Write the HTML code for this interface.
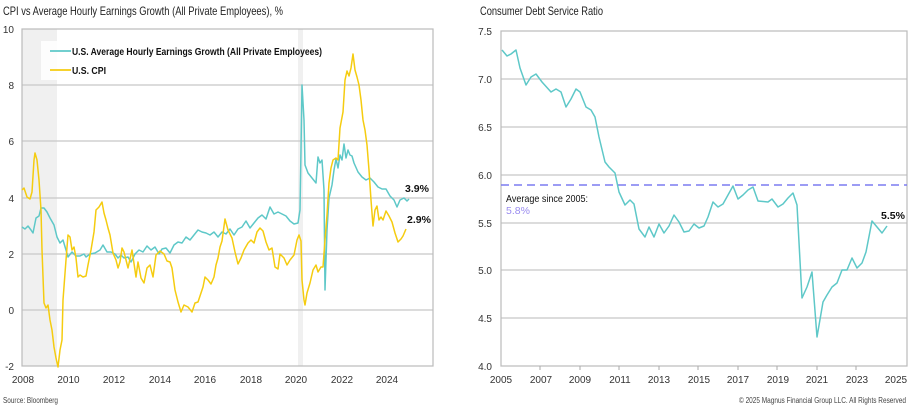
<!DOCTYPE html>
<html><head><style>
body{margin:0;background:#fff;}
svg text{font-family:"Liberation Sans Narrow","Liberation Sans",sans-serif;}
</style></head><body>
<svg width="913" height="405" xmlns="http://www.w3.org/2000/svg">
<rect width="913" height="405" fill="#fff"/>
<!-- LEFT CHART -->
<text x="3" y="15" font-size="12" fill="#222" textLength="280" lengthAdjust="spacingAndGlyphs">CPI vs Average Hourly Earnings Growth (All Private Employees), %</text>
<rect x="22" y="29" width="35" height="337" fill="#f0f0f0"/>
<rect x="298" y="29" width="5" height="337" fill="#f0f0f0"/>
<g stroke="#c8c8c8" stroke-width="1.3">
<line x1="22" y1="85" x2="433" y2="85"/><line x1="22" y1="141" x2="433" y2="141"/>
<line x1="22" y1="198" x2="433" y2="198"/><line x1="22" y1="254" x2="433" y2="254"/>
<line x1="22" y1="310" x2="433" y2="310"/>
</g>
<rect x="41" y="41" width="230" height="39" fill="#fff" opacity="0.85"/>
<rect x="22" y="29" width="411" height="337" fill="none" stroke="#bbb" stroke-width="1.2"/>
<g font-size="10" fill="#333" text-anchor="end">
<text x="14" y="33">10</text><text x="14" y="89">8</text><text x="14" y="145">6</text><text x="14" y="202">4</text><text x="14" y="258">2</text><text x="14" y="314">0</text><text x="14" y="370">-2</text>
</g>
<g font-size="10" fill="#333" text-anchor="middle">
<text x="23" y="383">2008</text><text x="68.5" y="383">2010</text><text x="114" y="383">2012</text><text x="160" y="383">2014</text><text x="205" y="383">2016</text><text x="251" y="383">2018</text><text x="296" y="383">2020</text><text x="342" y="383">2022</text><text x="387" y="383">2024</text>
</g>
<line x1="50" y1="51" x2="71" y2="51" stroke="#5ec8c8" stroke-width="1.8"/>
<text x="72" y="55" font-size="10.5" font-weight="bold" fill="#111" textLength="250" lengthAdjust="spacingAndGlyphs">U.S. Average Hourly Earnings Growth (All Private Employees)</text>
<line x1="50" y1="70" x2="71" y2="70" stroke="#f5cc10" stroke-width="1.8"/>
<text x="72" y="74" font-size="10.5" font-weight="bold" fill="#111" textLength="34" lengthAdjust="spacingAndGlyphs">U.S. CPI</text>
<polyline fill="none" stroke="#5ec8c8" stroke-width="1.5" stroke-linejoin="round" points="22,227 25,229 28,226 31,230 33,233 36,218 39,216 41,208 44,208 47,212 50,218 54,225 57,237 60,243 63,240 66,250 68,257 72,252 76,256 80,256 84,254 86,257 90,254 95,253 100,250 103,245 107,252 111,252 115,254 118,258 121,255 124,258 128,257 131,262 135,254 139,250 143,252 147,246 151,250 155,247 159,254 162,249 166,248 170,253 174,245 178,242 182,243 186,237 190,240 194,235 198,230 202,232 206,233 210,235 214,232 218,237 222,232 226,234 230,229 234,235 238,229 242,227 246,221 250,228 254,223 258,218 262,215 266,219 270,207 274,214 278,212 282,214 286,216 290,221 294,224 298,223 300,210 301,150 302,85 304,120 305,165 308,173 312,178 316,183 318,157 320,163 322,160 324,190 325,290 327,230 329,198 332,185 334,170 336,159 338,168 340,155 342,160 344,144 346,158 348,150 350,155 352,156 354,163 358,172 362,177 366,180 370,178 374,182 378,187 382,189 386,189 390,196 394,200 397,207 400,200 404,198 407,201 409,199"/>
<polyline fill="none" stroke="#f5cc10" stroke-width="1.5" stroke-linejoin="round" points="22,190 24,188 27,197 30,199 32,192 34,160 35,153 37,160 39,180 41,210 42,250 44,303 46,308 48,305 50,320 52,330 54,347 56,358 58,367 60,350 62,340 63,300 66,260 68,235 70,237 72,250 74,247 76,258 78,277 80,275 83,277 86,276 88,265 91,250 94,232 96,210 99,207 102,202 104,213 106,220 108,228 110,235 113,253 116,260 118,268 120,262 122,248 124,252 128,268 132,250 136,277 138,262 141,278 144,283 147,268 150,265 153,277 156,255 160,251 164,254 167,261 170,262 172,268 175,290 178,302 181,312 184,305 188,307 192,312 195,303 198,302 201,293 203,287 205,277 208,280 211,284 214,277 216,265 218,258 220,247 222,241 225,219 228,230 232,238 235,252 238,264 241,258 244,250 248,243 251,240 254,243 257,232 260,228 263,231 266,242 269,250 272,248 275,267 278,269 280,254 284,258 287,265 290,260 294,255 297,240 299,235 301,241 302,280 304,300 305,305 307,293 310,283 313,270 316,265 318,272 321,267 323,267 325,240 327,215 329,183 331,168 333,160 336,158 338,160 340,128 343,112 345,80 347,71 349,76 351,68 353,54 355,70 357,77 359,85 361,100 363,120 365,130 367,145 369,170 371,200 373,226 375,210 377,206 379,220 381,217 383,220 386,211 389,216 392,222 395,233 398,242 401,239 403,236 406,229"/>
<text x="405" y="192" font-size="10.5" font-weight="bold" fill="#111">3.9%</text>
<text x="407" y="223" font-size="10.5" font-weight="bold" fill="#111">2.9%</text>
<text x="3" y="403" font-size="8" fill="#444" textLength="55" lengthAdjust="spacingAndGlyphs">Source: Bloomberg</text>

<!-- RIGHT CHART -->
<text x="480" y="15" font-size="12" fill="#222" textLength="123" lengthAdjust="spacingAndGlyphs">Consumer Debt Service Ratio</text>
<g stroke="#c8c8c8" stroke-width="1.3">
<line x1="501" y1="79" x2="907" y2="79"/><line x1="501" y1="127" x2="907" y2="127"/>
<line x1="501" y1="175" x2="907" y2="175"/><line x1="501" y1="223" x2="907" y2="223"/>
<line x1="501" y1="270" x2="907" y2="270"/><line x1="501" y1="318" x2="907" y2="318"/>
</g>
<rect x="501" y="31" width="406" height="335" fill="none" stroke="#bbb" stroke-width="1.2"/>
<g stroke="#aaa"><line x1="540" y1="366" x2="540" y2="370"/><line x1="580" y1="366" x2="580" y2="370"/><line x1="619" y1="366" x2="619" y2="370"/><line x1="659" y1="366" x2="659" y2="370"/><line x1="698" y1="366" x2="698" y2="370"/><line x1="738" y1="366" x2="738" y2="370"/><line x1="777" y1="366" x2="777" y2="370"/><line x1="817" y1="366" x2="817" y2="370"/><line x1="856" y1="366" x2="856" y2="370"/></g>
<line x1="501" y1="185" x2="907" y2="185" stroke="#7b7bf0" stroke-width="1.4" stroke-dasharray="8,5"/>
<g font-size="10" fill="#333" text-anchor="end">
<text x="492" y="35">7.5</text><text x="492" y="83">7.0</text><text x="492" y="131">6.5</text><text x="492" y="179">6.0</text><text x="492" y="227">5.5</text><text x="492" y="274">5.0</text><text x="492" y="322">4.5</text><text x="492" y="370">4.0</text>
</g>
<g font-size="10" fill="#333" text-anchor="middle">
<text x="501" y="383">2005</text><text x="541" y="383">2007</text><text x="580" y="383">2009</text><text x="620" y="383">2011</text><text x="659" y="383">2013</text><text x="699" y="383">2015</text><text x="738" y="383">2017</text><text x="778" y="383">2019</text><text x="817" y="383">2021</text><text x="857" y="383">2023</text><text x="896" y="383">2025</text>
</g>
<text x="506" y="202" font-size="10.5" fill="#111" textLength="82" lengthAdjust="spacingAndGlyphs">Average since 2005:</text>
<text x="506" y="214" font-size="10.5" fill="#9a8cf0">5.8%</text>
<polyline fill="none" stroke="#5ec8c8" stroke-width="1.5" stroke-linejoin="round" points="502,50 507,56 511,54 516,50 520,68 526,85 531,77 536,74 542,82 551,92 556,89 561,92 566,107 571,99 576,89 580,92 586,107 591,110 595,117 599,137 605,162 609,167 615,173 619,192 625,205 630,200 634,204 639,229 645,237 649,227 654,237 659,224 664,233 669,226 674,215 679,222 684,232 689,231 694,224 699,228 704,226 708,217 713,202 718,207 723,204 728,195 733,186 738,199 743,195 748,190 753,187 758,201 768,202 772,199 778,207 783,204 788,198 793,193 797,205 802,298 807,287 812,272 817,337 823,302 827,295 832,287 837,283 842,270 847,270 852,258 857,268 862,263 866,252 872,221 877,227 882,233 887,226"/>
<text x="881" y="219" font-size="10.5" font-weight="bold" fill="#111">5.5%</text>
<text x="906" y="403" font-size="8" fill="#444" text-anchor="end" textLength="167" lengthAdjust="spacingAndGlyphs">© 2025 Magnus Financial Group LLC. All Rights Reserved</text>
</svg>
</body></html>
